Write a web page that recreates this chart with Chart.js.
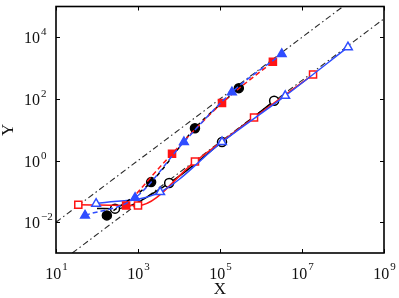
<!DOCTYPE html>
<html>
<head>
<meta charset="utf-8">
<script src="https://cdn.jsdelivr.net/npm/chart.js@4"></script>
<style>
  html, body { margin: 0; padding: 0; background: #fff; }
  #wrap { width: 399px; height: 298px; }
</style>
</head>
<body>
<div id="wrap"><canvas id="chart" width="399" height="298"></canvas></div>
<script>
// ---- data (both axes logarithmic) ----
const xTicks = [1e1, 1e3, 1e5, 1e7, 1e9];
const xTickExp = ["1", "3", "5", "7", "9"];
const yTicks = [1e-2, 1e0, 1e2, 1e4];
const yTickExp = ["\u22122", "0", "2", "4"];

// upper branch: filled markers, dashed lines
const blueFilledX = [51, 850, 13200, 195000, 3.2e6];
const blueFilledY = [0.0166, 0.062, 4.0, 166, 2880];
const blackFilledX = [174, 2090, 24500, 288000];
const blackFilledY = [0.0166, 0.2, 11.2, 224];
const redFilledX = [513, 6760, 112000, 1.95e6];
const redFilledY = [0.035, 1.66, 74, 1620];

// lower branch: open markers, solid lines
const redOpenX = [35, 1000, 24500, 676000, 1.86e7];
const redOpenY = [0.037, 0.035, 0.93, 25, 617];
const blueOpenX = [95, 3470, 112000, 3.9e6, 1.32e8];
const blueOpenY = [0.04, 0.095, 4.0, 126, 4790];
const blackOpenX = [100, 275, 5750, 112000, 2.09e6];
const blackOpenY = [0.028, 0.0275, 0.186, 4.0, 87];
const blackOpenMarks = [false, true, true, true, true];

// dash-dot guide lines, slope 1
const guideUpperX = [10, 1e8];
const guideUpperY = [1e-2, 1e5];
const guideLowerX = [25, 1e9];
const guideLowerY = [1e-3, 4e4];

const RED = "#ff1414";
const BLUE = "#2f4dff";
const BLACK = "#000000";

function pts(xs, ys) {
  return xs.map((x, i) => ({ x: x, y: ys[i] }));
}

function series(xs, ys, color, shape, filled, dash, r, marks) {
  return {
    data: pts(xs, ys),
    borderColor: color,
    backgroundColor: color,
    borderWidth: 1.5,
    borderDash: dash,
    cubicInterpolationMode: "monotone",
    pointStyle: shape,
    pointRadius: marks ? marks.map(m => (m ? r : 0)) : r,
    pointBorderColor: color,
    pointBackgroundColor: filled ? color : "#ffffff",
    pointBorderWidth: 1.5
  };
}

function guide(xs, ys) {
  return {
    data: pts(xs, ys),
    borderColor: "#2a2a2a",
    borderWidth: 1.1,
    borderDash: [6, 3, 1.5, 3],
    pointRadius: 0,
    tension: 0
  };
}

// frame, inward ticks and 10^n labels
const framePlugin = {
  id: "frame",
  afterDraw(chart) {
    const ctx = chart.ctx;
    const a = chart.chartArea;
    const xs = chart.scales.x;
    const ys = chart.scales.y;
    ctx.save();
    ctx.strokeStyle = "#000";
    ctx.lineWidth = 1.6;
    ctx.strokeRect(a.left, a.top, a.right - a.left, a.bottom - a.top);

    ctx.lineWidth = 1;
    ctx.beginPath();
    xTicks.forEach(v => {
      const px = Math.round(xs.getPixelForValue(v)) + 0.5;
      ctx.moveTo(px, a.bottom); ctx.lineTo(px, a.bottom - 4);
      ctx.moveTo(px, a.top); ctx.lineTo(px, a.top + 4);
    });
    yTicks.forEach(v => {
      const py = Math.round(ys.getPixelForValue(v)) + 0.5;
      ctx.moveTo(a.left, py); ctx.lineTo(a.left + 4, py);
      ctx.moveTo(a.right, py); ctx.lineTo(a.right - 4, py);
    });
    ctx.stroke();

    const baseFont = '16px "Liberation Serif"';
    const expFont = '11px "Liberation Serif"';
    ctx.fillStyle = "#111";
    ctx.textBaseline = "alphabetic";
    ctx.textAlign = "left";

    xTicks.forEach((v, i) => {
      const px = xs.getPixelForValue(v);
      ctx.font = baseFont;
      const wb = ctx.measureText("10").width;
      ctx.font = expFont;
      const we = ctx.measureText(xTickExp[i]).width;
      const x0 = px - (wb + we) / 2;
      ctx.font = baseFont;
      ctx.fillText("10", x0, 279);
      ctx.font = expFont;
      ctx.fillText(xTickExp[i], x0 + wb + 1, 270);
    });

    yTicks.forEach((v, i) => {
      const py = ys.getPixelForValue(v);
      ctx.font = baseFont;
      const wb = ctx.measureText("10").width;
      ctx.fillText("10", 24, py + 6);
      ctx.font = expFont;
      ctx.fillText(yTickExp[i], 24 + wb + 1, py - 2);
    });

    ctx.font = '17px "Liberation Serif"';
    ctx.textAlign = "center";
    ctx.fillText("X", (a.left + a.right) / 2, 294);
    ctx.translate(13, (a.top + a.bottom) / 2);
    ctx.rotate(-Math.PI / 2);
    ctx.fillText("Y", 0, 0);
    ctx.restore();
  }
};

new Chart(document.getElementById("chart"), {
  type: "line",
  data: {
    datasets: [
      series(blueFilledX, blueFilledY, BLUE, "triangle", true, [5, 3], 5),
      series(redFilledX, redFilledY, RED, "rect", true, [5, 3], 5),
      series(blackFilledX, blackFilledY, BLACK, "circle", true, [4, 4], 4.5),
      series(blueOpenX, blueOpenY, BLUE, "triangle", false, [], 5),
      series(redOpenX, redOpenY, RED, "rect", false, [], 5),
      series(blackOpenX, blackOpenY, BLACK, "circle", false, [], 4.5, blackOpenMarks),
      guide(guideUpperX, guideUpperY),
      guide(guideLowerX, guideLowerY)
    ]
  },
  options: {
    responsive: false,
    animation: false,
    layout: { padding: { left: 56, right: 15, top: 3, bottom: 45 } },
    plugins: { legend: { display: false }, tooltip: { enabled: false } },
    scales: {
      x: { type: "logarithmic", min: 1e1, max: 1e9, display: false },
      y: { type: "logarithmic", min: 1e-3, max: 1e5, display: false }
    }
  },
  plugins: [framePlugin]
});
</script>
</body>
</html>
